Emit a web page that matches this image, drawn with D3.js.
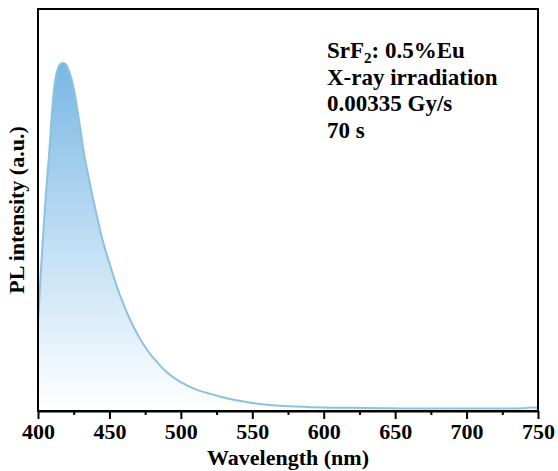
<!doctype html>
<html lang="en">
<head>
  <meta charset="utf-8">
  <title>SrF2 PL spectrum</title>
  <script src="https://d3js.org/d3.v7.min.js"></script>
  <style>
    body { margin: 0; background: #fff; }
    svg text { font-family: "Liberation Serif", "Times New Roman", serif; font-weight: bold; fill: #000; }
    .axis path, .axis line { stroke: #000; stroke-width: 2; }
  </style>
</head>
<body>
<svg id="chart"></svg>
<script>
  // wavelength (nm) and PL intensity (a.u., peak = 1)
  var wavelength = [400, 402, 404, 406, 408, 410, 412, 414, 416, 418, 420, 422, 424, 426, 428, 430,
    432, 435, 438, 441, 444, 447, 450, 455, 460, 465, 470, 475, 480, 485, 490, 495, 500,
    510, 520, 530, 540, 550, 560, 570, 580, 600, 620, 640, 660, 680, 700, 720, 740, 745, 750];
  var intensity = [0.256, 0.40, 0.53, 0.65, 0.75, 0.87, 0.95, 0.985, 0.998, 1.0, 0.993, 0.973, 0.945, 0.905, 0.855, 0.80,
    0.745, 0.68, 0.62, 0.565, 0.51, 0.465, 0.425, 0.36, 0.305, 0.258, 0.218, 0.184, 0.156, 0.133, 0.112, 0.096, 0.083,
    0.063, 0.050, 0.039, 0.030, 0.023, 0.018, 0.015, 0.013, 0.010, 0.009, 0.008, 0.007, 0.007, 0.007, 0.007, 0.008, 0.010, 0.009];
  var xTicks = [400, 450, 500, 550, 600, 650, 700, 750];
  var xMinorTicks = [425, 475, 525, 575, 625, 675, 725];
  var notes = ["SrF|2|: 0.5%Eu", "X-ray irradiation", "0.00335 Gy/s", "70 s"];

  var W = 558, H = 471;
  var margin = { top: 9, right: 20, bottom: 60, left: 38 };
  var width = W - margin.left - margin.right,
      height = H - margin.top - margin.bottom;

  var svg = d3.select("#chart").attr("width", W).attr("height", H);
  var g = svg.append("g").attr("transform", "translate(" + margin.left + "," + margin.top + ")");

  var x = d3.scaleLinear().domain([400, 750]).range([0, width]);
  var y = d3.scaleLinear().domain([0, 1.155]).range([height, 0]);

  var data = wavelength.map(function(w, i) { return { w: w, v: intensity[i] }; });

  // vertical gradient under the curve
  var grad = svg.append("defs").append("linearGradient")
    .attr("id", "fillGrad").attr("gradientUnits", "userSpaceOnUse")
    .attr("x1", 0).attr("x2", 0).attr("y1", y(1)).attr("y2", height);
  grad.append("stop").attr("offset", "0%").attr("stop-color", "#79b7e3");
  grad.append("stop").attr("offset", "55%").attr("stop-color", "#c5e1f5");
  grad.append("stop").attr("offset", "100%").attr("stop-color", "#ffffff");

  var area = d3.area().curve(d3.curveMonotoneX)
    .x(function(d) { return x(d.w); })
    .y0(height)
    .y1(function(d) { return y(d.v); });
  var line = d3.line().curve(d3.curveMonotoneX)
    .x(function(d) { return x(d.w); })
    .y(function(d) { return y(d.v); });

  g.append("path").datum(data).attr("d", area).attr("fill", "url(#fillGrad)");
  g.append("path").datum(data).attr("d", line)
    .attr("fill", "none").attr("stroke", "#8cc1e1").attr("stroke-width", 2);

  // frame
  g.append("rect").attr("width", width).attr("height", height)
    .attr("fill", "none").attr("stroke", "#000").attr("stroke-width", 2);

  // bottom axis, major + minor ticks
  g.append("g").attr("class", "axis")
    .attr("transform", "translate(0," + height + ")")
    .call(d3.axisBottom(x).tickValues(xMinorTicks).tickSize(4).tickFormat(""))
    .call(function(a) { a.select(".domain").remove(); });
  var xa = g.append("g").attr("class", "axis")
    .attr("transform", "translate(0," + height + ")")
    .call(d3.axisBottom(x).tickValues(xTicks).tickSize(8).tickSizeOuter(0).tickPadding(3));
  xa.selectAll("text").style("font-size", "22px").attr("dy", "0.75em");

  g.append("text")
    .attr("x", width / 2).attr("y", height + 54)
    .attr("text-anchor", "middle").style("font-size", "22px")
    .text("Wavelength (nm)");

  g.append("text")
    .attr("transform", "translate(" + (-14) + "," + (height / 2) + ") rotate(-90)")
    .attr("text-anchor", "middle").style("font-size", "22px")
    .text("PL intensity (a.u.)");

  // annotation
  notes.forEach(function(s, i) {
    var t = g.append("text").attr("x", 327 - margin.left).attr("y", 58 - margin.top + i * 26.5)
      .style("font-size", "23px");
    var parts = s.split("|");
    if (parts.length > 1) {
      t.append("tspan").text(parts[0]);
      t.append("tspan").attr("dy", 5).style("font-size", "15px").text(parts[1]);
      t.append("tspan").attr("dy", -5).text(parts[2]);
    } else {
      t.text(s);
    }
  });
</script>
</body>
</html>
